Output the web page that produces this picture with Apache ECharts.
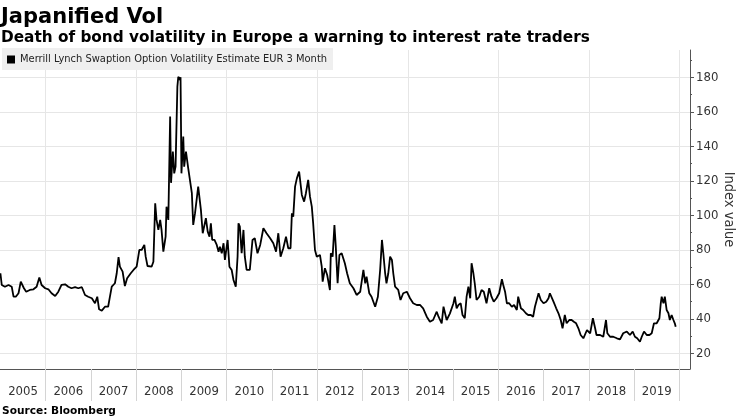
<!DOCTYPE html>
<html><head><meta charset="utf-8">
<script src="https://cdn.jsdelivr.net/npm/echarts@6/dist/echarts.min.js"></script>
<style>html,body{margin:0;padding:0;background:#fff}#c{width:740px;height:416px}</style>
</head><body><div id="c"></div>
<script>
const seriesName = 'Merrill Lynch Swaption Option Volatility Estimate EUR 3 Month';
const dates = [
2005.00,2005.03,2005.10,2005.14,2005.18,2005.21,2005.25,2005.29,2005.34,2005.40,2005.45,2005.49,2005.52,2005.57,2005.65,2005.73,2005.80,2005.86,2005.91,2005.99,
2006.06,2006.13,2006.21,2006.28,2006.35,2006.43,2006.50,2006.57,2006.65,2006.72,2006.80,2006.87,2006.94,
2007.02,2007.09,2007.14,2007.18,2007.24,2007.31,2007.38,2007.42,2007.46,2007.53,2007.57,2007.61,2007.64,2007.70,2007.75,2007.80,2007.88,2007.94,
2008.01,2008.07,2008.12,2008.18,2008.21,2008.25,2008.34,2008.38,2008.42,2008.45,2008.49,2008.53,2008.56,2008.60,2008.65,2008.67,2008.71,2008.75,2008.77,2008.81,2008.84,2008.87,2008.91,2008.93,2008.97,2008.98,
2009.00,2009.04,2009.06,2009.10,2009.13,2009.15,2009.19,2009.23,2009.26,2009.30,2009.34,2009.37,2009.40,2009.43,2009.47,2009.51,2009.54,2009.58,2009.62,2009.65,2009.68,2009.73,2009.78,2009.82,2009.85,2009.89,2009.93,2009.96,
2010.02,2010.06,2010.11,2010.15,2010.20,2010.24,2010.26,2010.29,2010.33,2010.37,2010.40,2010.44,2010.51,2010.57,2010.62,2010.68,2010.74,2010.81,2010.88,2010.96,
2011.03,2011.09,2011.14,2011.19,2011.25,2011.31,2011.36,2011.41,2011.44,2011.47,2011.51,2011.55,2011.60,2011.66,2011.71,2011.75,2011.80,2011.84,2011.88,2011.91,2011.95,2011.99,
2012.06,2012.10,2012.12,2012.17,2012.22,2012.28,2012.30,2012.34,2012.38,2012.41,2012.45,2012.49,2012.54,2012.61,2012.66,2012.72,2012.80,2012.87,2012.95,
2013.02,2013.06,2013.09,2013.15,2013.20,2013.28,2013.34,2013.39,2013.43,2013.46,2013.50,2013.53,2013.57,2013.61,2013.65,2013.68,2013.72,2013.79,2013.84,2013.90,2013.98,
2014.05,2014.12,2014.20,2014.27,2014.34,2014.42,2014.49,2014.56,2014.64,2014.68,2014.75,2014.79,2014.86,2014.93,
2015.01,2015.04,2015.08,2015.12,2015.17,2015.21,2015.26,2015.30,2015.34,2015.38,2015.41,2015.45,2015.48,2015.52,2015.58,2015.63,2015.68,2015.74,2015.80,2015.85,2015.90,2015.96,
2016.02,2016.08,2016.11,2016.15,2016.19,2016.24,2016.30,2016.35,2016.41,2016.44,2016.50,2016.55,2016.61,2016.66,2016.72,2016.77,2016.81,2016.85,2016.89,2016.94,
2017.00,2017.06,2017.11,2017.14,2017.18,2017.22,2017.28,2017.33,2017.38,2017.42,2017.47,2017.51,2017.57,2017.62,2017.67,2017.72,2017.77,2017.82,2017.88,2017.96,
2018.03,2018.09,2018.14,2018.17,2018.25,2018.32,2018.38,2018.41,2018.47,2018.54,2018.62,2018.69,2018.76,2018.84,2018.91,2018.97,
2019.02,2019.07,2019.13,2019.17,2019.22,2019.28,2019.34,2019.39,2019.44,2019.50,2019.56,2019.59,2019.61,2019.65,2019.68,2019.72,2019.76,2019.79,2019.83,2019.87,2019.90,2019.92
];
const values = [
66.4,59.6,58.6,57.7,59.6,60.6,58.6,52.8,52.8,54.8,61.5,62.5,57.7,55.7,56.7,57.1,58.6,64.0,59.6,57.7,
57.1,54.8,53.2,55.7,59.6,60.0,58.6,57.7,58.3,57.7,58.3,53.8,52.8,
51.9,49.0,52.8,45.5,44.7,47.0,47.0,52.8,58.6,60.6,66.4,75.7,70.2,67.3,59.0,63.5,66.4,68.3,
70.2,79.9,79.9,82.8,76.0,70.6,70.2,73.1,107.0,97.3,91.5,97.3,91.5,78.9,87.6,105.0,97.3,157.2,118.8,136.9,124.3,128.2,174.6,180.3,178.4,180.0,
124.3,145.6,128.2,136.9,135.9,127.2,128.2,112.8,94.4,101.2,101.2,116.6,117.6,103.1,89.6,89.6,98.3,90.5,87.6,95.4,85.7,85.7,82.8,78.9,81.8,78.0,83.8,74.1,
85.7,70.2,68.3,62.5,58.6,76.0,95.4,93.4,78.0,91.5,76.0,68.3,68.3,85.7,86.7,78.0,82.8,92.5,89.6,86.7,
83.8,78.9,89.6,76.0,80.9,87.6,80.9,80.9,101.2,99.2,116.6,121.4,125.3,111.8,107.9,112.8,120.5,110.8,105.0,95.4,79.9,76.0,
77.0,70.2,61.5,69.3,65.4,56.7,78.0,76.0,94.4,81.8,60.6,77.0,78.0,72.2,66.4,60.6,57.7,53.8,55.7,
68.3,60.6,64.4,54.8,52.8,47.0,52.8,68.3,85.7,78.0,66.4,60.6,66.4,76.0,74.1,66.4,58.6,56.7,50.9,54.8,55.7,
51.9,49.0,48.0,48.0,46.1,41.2,38.3,39.3,44.1,41.2,37.4,47.0,39.3,43.0,
49.0,52.8,46.1,48.0,49.0,42.2,40.3,52.8,58.6,51.9,72.2,66.4,60.6,50.9,52.8,56.7,55.7,49.0,57.7,52.8,49.9,51.9,
54.8,62.9,59.6,55.7,49.0,49.0,47.0,48.0,45.1,52.8,46.1,45.1,43.2,42.2,42.2,41.2,47.0,50.9,54.8,50.9,
49.0,49.9,51.9,54.8,53.8,49.9,46.1,43.2,39.3,34.5,42.2,37.4,39.3,39.3,38.3,37.4,34.5,30.6,28.7,33.5,
31.6,40.3,34.5,30.6,30.6,29.6,39.3,31.6,29.6,29.6,28.7,28.1,31.6,32.6,30.6,32.6,
29.6,28.7,26.7,29.6,32.6,30.6,30.6,31.6,37.4,37.4,40.3,49.0,52.8,49.0,52.8,45.1,43.2,39.3,42.2,39.3,37.4,35.4
];
const yearBounds = [2006,2007,2008,2009,2010,2011,2012,2013,2014,2015,2016,2017,2018,2019,2020];
const gridYears = [2006,2008,2010,2012,2014,2016,2018,2020];
const yearCenters = [2005.5,2006.5,2007.5,2008.5,2009.5,2010.5,2011.5,2012.5,2013.5,2014.5,2015.5,2016.5,2017.5,2018.5,2019.5];
const yTicks = [20,40,60,80,100,120,140,160,180];
const yMinorTicks = [30,50,70,90,110,130,150,170,190];

const xMin = 2004.991, xMax = 2020.236, yMin = 10.9, yMax = 195.8;
const data = dates.map((d, i) => [d, values[i]]);
const font = '"DejaVu Sans Condensed", "DejaVu Sans", sans-serif';
const boldFont = '"DejaVu Sans", sans-serif';

const chart = echarts.init(document.getElementById('c'), null, {renderer: 'canvas'});
chart.setOption({
  animation: false,
  backgroundColor: '#fff',
  title: [
    {text: 'Japanified Vol', left: 1, top: 7, padding: 0,
     textStyle: {fontFamily: boldFont, fontWeight: 'bold', fontSize: 21, color: '#000'}},
    {text: 'Death of bond volatility in Europe a warning to interest rate traders', left: 1, top: 31, padding: 0,
     textStyle: {fontFamily: boldFont, fontWeight: 'bold', fontSize: 15.3, color: '#000'}},
    {text: 'Source: Bloomberg', left: 2, top: 406, padding: 0,
     textStyle: {fontFamily: boldFont, fontWeight: 'bold', fontSize: 10.6, color: '#000'}}
  ],
  legend: {
    left: 2, top: 48, padding: [6, 6, 5, 5], backgroundColor: '#efefef',
    itemWidth: 8, itemHeight: 8, icon: 'rect',
    textStyle: {fontFamily: font, fontSize: 11, color: '#222'},
    data: [seriesName]
  },
  grid: {left: 0, right: 50, top: 50, bottom: 47, containLabel: false, outerBoundsMode: 'none'},
  xAxis: [
    {type: 'value', min: xMin, max: xMax, position: 'bottom',
     axisLine: {show: true, onZero: false, lineStyle: {color: '#555', width: 1}},
     axisTick: {show: true, customValues: yearBounds, length: 32, lineStyle: {color: '#d4d4d4'}},
     axisLabel: {customValues: yearCenters, formatter: v => String(Math.floor(v)), margin: 16,
                 fontFamily: font, fontSize: 13, color: '#333'},
     splitLine: {show: false}},
    {type: 'value', min: xMin, max: xMax, position: 'bottom',
     axisLine: {show: false}, axisTick: {show: false, customValues: gridYears},
     axisLabel: {show: false}, splitLine: {show: true, lineStyle: {color: '#e6e6e6'}}}
  ],
  yAxis: [
    {type: 'value', min: yMin, max: yMax, position: 'right',
     name: 'Index value', nameLocation: 'middle', nameRotate: -90, nameGap: 31, nameMoveOverlap: false,
     nameTextStyle: {fontFamily: font, fontSize: 14.5, color: '#333'},
     axisLine: {show: true, lineStyle: {color: '#555'}},
     axisTick: {show: true, customValues: yTicks, length: 4, lineStyle: {color: '#555'}},
     axisLabel: {customValues: yTicks, margin: 6, fontFamily: font, fontSize: 13, color: '#333'},
     splitLine: {show: true, lineStyle: {color: '#e6e6e6'}}},
    {type: 'value', min: yMin, max: yMax, position: 'right',
     axisLine: {show: false},
     axisTick: {show: true, customValues: yMinorTicks, length: 2, lineStyle: {color: '#555'}},
     axisLabel: {show: false}, splitLine: {show: false}}
  ],
  series: [{
    name: seriesName, type: 'line', data: data, xAxisIndex: 0, yAxisIndex: 0,
    showSymbol: false, symbol: 'none', color: '#000',
    lineStyle: {color: '#000', width: 1.8}, itemStyle: {color: '#000'}
  }]
});
</script></body></html>
